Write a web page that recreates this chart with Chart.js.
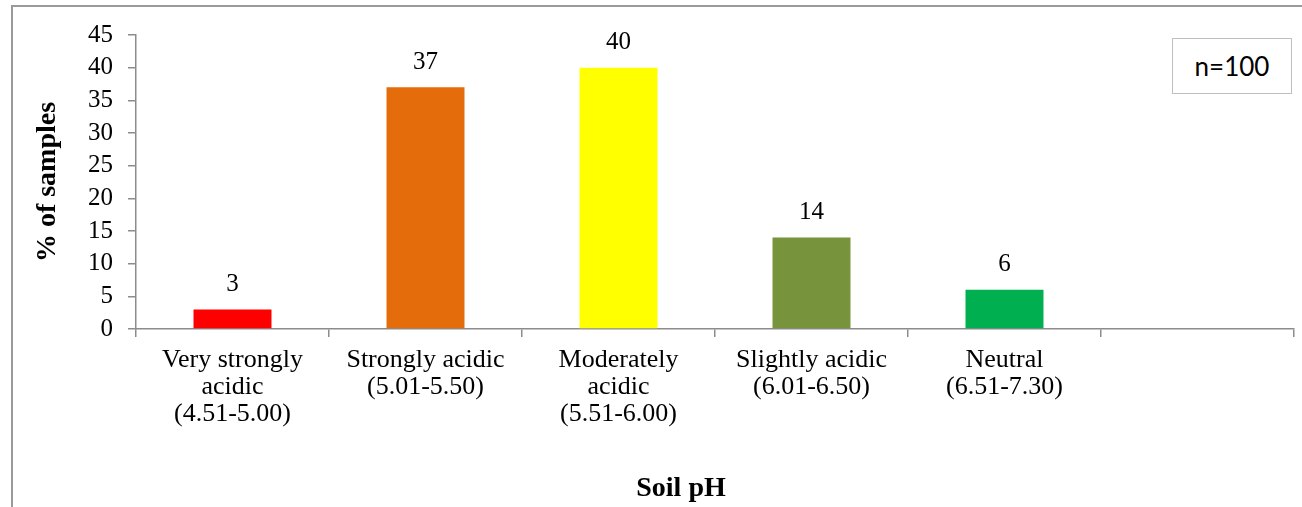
<!DOCTYPE html>
<html>
<head>
    <meta charset="UTF-8">
    <title>Soil pH</title>
    <script src="https://cdn.jsdelivr.net/npm/chart.js"></script>
    <style>
        body {
            margin: 0;
            background: #ffffff;
        }
        .wrap {
            position: relative;
            width: 1302px;
            height: 507px;
            overflow: hidden;
        }
        .frame {
            position: absolute;
            left: 11px;
            top: 5px;
            width: 1400px;
            height: 600px;
            border-top: 2px solid #9a9a9a;
            border-left: 2px solid #9a9a9a;
        }
        .nbox {
            position: absolute;
            left: 1172px;
            top: 38px;
            width: 118px;
            height: 54px;
            border: 1px solid #bfbfbf;
            font-family: Lato, "Liberation Sans", sans-serif;
            font-size: 26px;
            line-height: 54px;
            text-align: center;
            color: #000;
            background: #fff;
        }
        #chart {
            position: absolute;
            left: 0;
            top: 0;
        }
    </style>
</head>
<body>
    <div class="wrap">
        <div class="frame"></div>
        <canvas id="chart" width="1302" height="507"></canvas>
        <div class="nbox">n=100</div>
    </div>

    <script>
        // data
        const categories = [
            ['Very strongly', 'acidic', '(4.51-5.00)'],
            ['Strongly acidic', '(5.01-5.50)'],
            ['Moderately', 'acidic', '(5.51-6.00)'],
            ['Slightly acidic', '(6.01-6.50)'],
            ['Neutral', '(6.51-7.30)'],
            ''
        ];
        const samples = [3, 37, 40, 14, 6, null];
        const barColors = ['#ff0000', '#e46c0a', '#ffff00', '#77933c', '#00b050', '#ffffff'];
        const yTicks = [0, 5, 10, 15, 20, 25, 30, 35, 40, 45];

        const serif = '"Liberation Serif", "Times New Roman", serif';
        const axisGray = '#8c8c8c';

        // value labels over the bars
        const valueLabels = {
            id: 'valueLabels',
            afterDatasetsDraw(chart) {
                const ctx = chart.ctx;
                const meta = chart.getDatasetMeta(0);
                ctx.save();
                ctx.font = '25px ' + serif;
                ctx.fillStyle = '#000';
                ctx.textAlign = 'center';
                ctx.textBaseline = 'middle';
                meta.data.forEach((bar, i) => {
                    if (samples[i] == null) return;
                    ctx.fillText(String(samples[i]), bar.x, bar.y - 25);
                });
                ctx.restore();
            }
        };

        // x axis title, centred on the frame like the original
        const xTitle = {
            id: 'xTitle',
            afterDraw(chart) {
                const ctx = chart.ctx;
                ctx.save();
                ctx.font = 'bold 28px ' + serif;
                ctx.fillStyle = '#000';
                ctx.textAlign = 'center';
                ctx.textBaseline = 'middle';
                ctx.fillText('Soil pH', 681, 489);
                ctx.restore();
            }
        };

        new Chart(document.getElementById('chart'), {
            type: 'bar',
            data: {
                labels: categories,
                datasets: [{
                    data: samples,
                    backgroundColor: barColors,
                    barPercentage: 0.404,
                    categoryPercentage: 1.0
                }]
            },
            options: {
                responsive: false,
                animation: false,
                layout: {
                    padding: { left: 20, right: 8, top: 35, bottom: 0 }
                },
                plugins: {
                    legend: { display: false },
                    tooltip: { enabled: false }
                },
                scales: {
                    x: {
                        afterFit(s) { s.height = 178; },
                        grid: {
                            drawOnChartArea: false,
                            drawTicks: true,
                            tickLength: 8,
                            color: axisGray,
                            lineWidth: 1.5
                        },
                        border: { color: axisGray, width: 1.5 },
                        ticks: {
                            color: '#000',
                            padding: 10,
                            maxRotation: 0,
                            autoSkip: false,
                            font: { family: serif, size: 26, lineHeight: '27px' }
                        }
                    },
                    y: {
                        min: 0,
                        max: 45,
                        afterFit(s) { s.width = 116; },
                        afterBuildTicks(s) { s.ticks = yTicks.map(v => ({ value: v })); },
                        grid: {
                            drawOnChartArea: false,
                            drawTicks: true,
                            tickLength: 8,
                            color: axisGray,
                            lineWidth: 1.5
                        },
                        border: { color: axisGray, width: 1.5 },
                        ticks: {
                            color: '#000',
                            padding: 15,
                            autoSkip: false,
                            font: { family: serif, size: 25, lineHeight: 1.0 }
                        },
                        title: {
                            display: true,
                            text: '% of samples',
                            color: '#000',
                            padding: { top: 11, bottom: 0 },
                            font: { family: serif, size: 28, weight: 'bold' }
                        }
                    }
                }
            },
            plugins: [valueLabels, xTitle]
        });
    </script>
</body>
</html>
